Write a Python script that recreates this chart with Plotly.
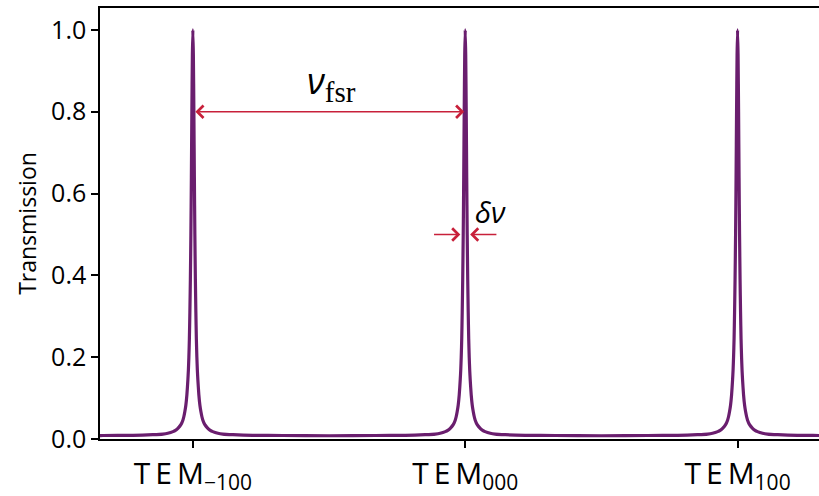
import plotly.graph_objects as go

# Resonance positions (in units of the free spectral range) and their labels
peak_centers = [-1.0, 0.0, 1.0]
peak_labels = ["T\u2009E\u2009M<sub>−100</sub>", "T\u2009E\u2009M<sub>000</sub>",
               "T\u2009E\u2009M<sub>100</sub>"]

# One-sided transmission profile of a single resonance: detuning (FSR units) vs. transmission
profile_offset = [0.0, 0.0018, 0.0037, 0.0055, 0.0073, 0.0092, 0.011, 0.0128, 0.0147,
                  0.0165, 0.0183, 0.022, 0.0257, 0.0294, 0.033, 0.0367, 0.044, 0.055,
                  0.064, 0.073, 0.092, 0.11, 0.147, 0.22, 0.33, 0.5]
profile_trans = [1.0, 0.94, 0.80, 0.64, 0.50, 0.39, 0.31, 0.245, 0.20,
                 0.168, 0.145, 0.108, 0.083, 0.067, 0.055, 0.046, 0.035, 0.026,
                 0.021, 0.018, 0.014, 0.012, 0.0105, 0.009, 0.0085, 0.008]

# Annotation levels
fsr_level = 0.8
linewidth_level = 0.5
linewidth_half = 0.018
linewidth_arrow_tail = 0.12

# Assemble the full transmission trace from the resonance profile
x_vals, t_vals = [], []
for c in peak_centers:
    for o, t in zip(reversed(profile_offset), reversed(profile_trans)):
        x_vals.append(c - o)
        t_vals.append(t)
    for o, t in zip(profile_offset[1:], profile_trans[1:]):
        x_vals.append(c + o)
        t_vals.append(t)

RED = "#c8203a"
PURPLE = "#6a1e6e"
FONT = "Open Sans"

fig = go.Figure()
fig.add_trace(go.Scatter(x=x_vals, y=t_vals, mode="lines",
                         line=dict(color=PURPLE, width=3.2, shape="spline", smoothing=0.6),
                         showlegend=False, hoverinfo="skip"))

annotations = [
    # free spectral range double arrow
    dict(x=peak_centers[1], y=fsr_level, ax=peak_centers[0], ay=fsr_level,
         xref="x", yref="y", axref="x", ayref="y", text="", showarrow=True,
         arrowhead=4, startarrowhead=4, arrowside="end+start", arrowsize=1.5,
         startarrowsize=1.5, arrowwidth=1.6, arrowcolor=RED, standoff=1, startstandoff=1),
    dict(x=(peak_centers[0] + peak_centers[1]) / 2 + 0.01, y=fsr_level + 0.005,
         xref="x", yref="y", showarrow=False, yanchor="bottom",
         text="<i>ν</i><sub><span style=\"font-family:'Liberation Serif';font-size:29px\">fsr</span></sub>",
         font=dict(family=FONT, size=36, color="black")),
    # linewidth arrows
    dict(x=peak_centers[1] - linewidth_half, y=linewidth_level,
         ax=peak_centers[1] - linewidth_arrow_tail, ay=linewidth_level,
         xref="x", yref="y", axref="x", ayref="y", text="", showarrow=True,
         arrowhead=4, arrowsize=1.5, arrowwidth=1.6, arrowcolor=RED),
    dict(x=peak_centers[1] + linewidth_half, y=linewidth_level,
         ax=peak_centers[1] + linewidth_arrow_tail, ay=linewidth_level,
         xref="x", yref="y", axref="x", ayref="y", text="", showarrow=True,
         arrowhead=4, arrowsize=1.5, arrowwidth=1.6, arrowcolor=RED),
    dict(x=peak_centers[1] + 0.03, y=linewidth_level + 0.055, xref="x", yref="y",
         showarrow=False, xanchor="left", text="<i>δν</i>",
         font=dict(family=FONT, size=29, color="black")),
]

fig.update_layout(
    width=819, height=496,
    margin=dict(l=100, r=0, t=8, b=55),
    paper_bgcolor="white", plot_bgcolor="white",
    font=dict(family=FONT, color="black"),
    annotations=annotations,
    xaxis=dict(range=[-1.341, 1.299], tickvals=peak_centers, ticktext=peak_labels,
               showgrid=False, zeroline=False, showline=True, mirror=True,
               linecolor="black", linewidth=1.5, ticks="outside", ticklen=7,
               tickwidth=1.5, tickcolor="black",
               tickfont=dict(family=FONT, size=30, color="black")),
    yaxis=dict(range=[0, 1.0535], tickvals=[0, 0.2, 0.4, 0.6, 0.8, 1.0],
               ticktext=["0.0", "0.2", "0.4", "0.6", "0.8", "1.0"],
               showgrid=False, zeroline=False, showline=True, mirror=False,
               linecolor="black", linewidth=1.5, ticks="outside", ticklen=7,
               tickwidth=1.5, tickcolor="black",
               tickfont=dict(family=FONT, size=25, color="black"),
               title=dict(text="Transmission", standoff=8,
                          font=dict(family=FONT, size=23, color="black"))),
)

fig.write_html("out.html")
